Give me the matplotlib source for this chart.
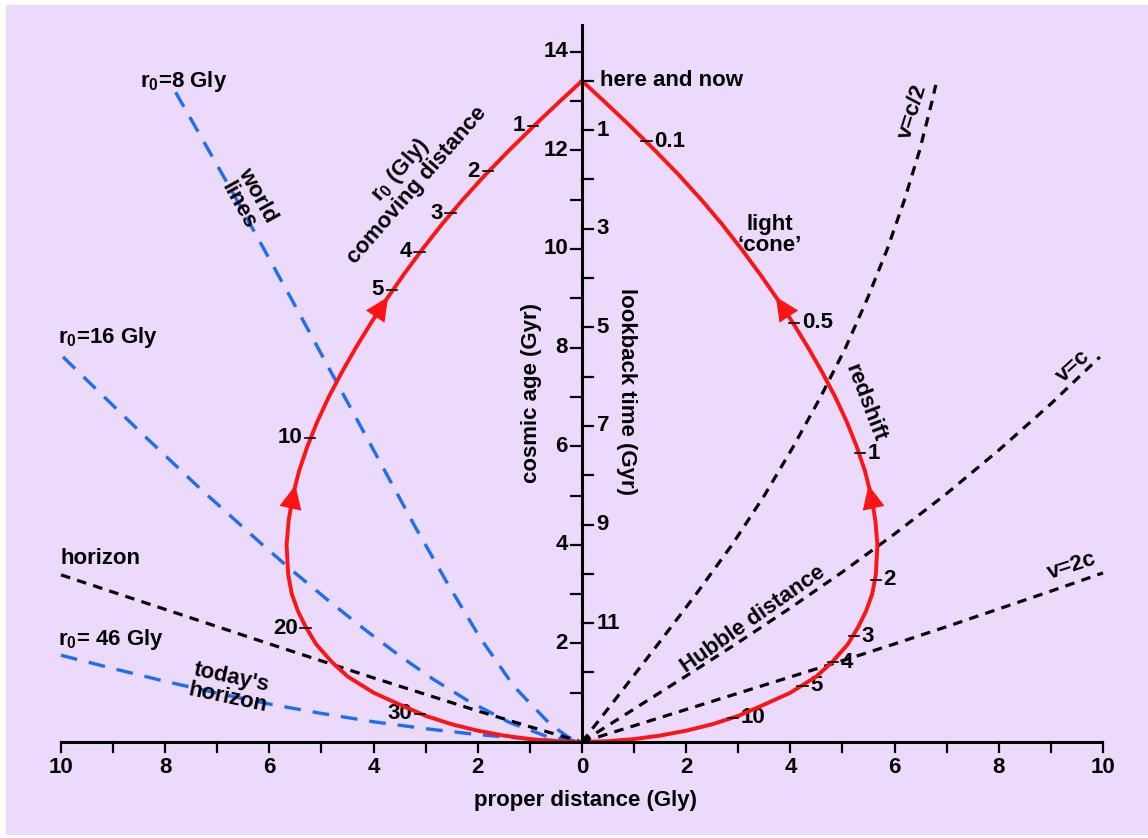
import matplotlib
matplotlib.use('Agg')
from matplotlib import pyplot as plt
from matplotlib import font_manager
from matplotlib.patches import Rectangle
import numpy as np

# --- datos ---
t0 = 13.41  # "here and now" (Gyr)

# cono de luz: edad cosmica (Gyr) y distancia propia (Gly), simetrico
cono_edad = [13.41, 13.0, 12.5, 12.0, 11.5, 11.0, 10.5, 10.0, 9.5, 9.0, 8.5, 8.0, 7.5, 7.0,
             6.5, 6.0, 5.5, 5.0, 4.5, 4.0, 3.4, 3.0, 2.65, 2.33, 1.98, 1.62, 1.33, 1.0,
             0.76, 0.53, 0.36, 0.23, 0.13, 0.06, 0.017, 0.0]
cono_dist = [0.0, 0.42, 0.92, 1.40, 1.86, 2.29, 2.69, 3.06, 3.41, 3.74, 4.05, 4.34, 4.61, 4.86,
             5.08, 5.27, 5.43, 5.55, 5.63, 5.67, 5.64, 5.57, 5.45, 5.30, 5.10, 4.80, 4.50, 4.00,
             3.50, 3.00, 2.50, 2.00, 1.50, 1.00, 0.50, 0.0]

# distancia comovil (izquierda) y redshift (derecha) sobre el cono
comovil_txt = ['1', '2', '3', '4', '5', '10', '20', '30']
comovil_edad = [12.5, 11.58, 10.73, 9.94, 9.17, 6.17, 2.31, 0.57]
redshift_txt = ['0.1', '0.5', '1', '2', '3', '4', '5', '10']
redshift_edad = [12.19, 8.5, 5.86, 3.29, 2.15, 1.62, 1.14, 0.49]
flechas_edad = [9.03, 5.21]

# lineas de mundo (azul), distancia propia negativa
r8_x = [-7.80, -6.68, -5.60, -4.84, -4.00, -3.21, -2.55, -1.96, -1.30, -0.61, -0.25, 0.0]
r8_t = [13.18, 11.10, 9.03, 7.55, 5.92, 4.38, 3.16, 2.12, 1.12, 0.36, 0.09, 0.0]
r16_x = [-9.96, -8.48, -7.33, -6.12, -5.60, -4.80, -4.13, -3.49, -2.85, -2.21, -1.40, -0.67, 0.0]
r16_t = [7.81, 6.29, 5.14, 3.99, 3.51, 2.81, 2.25, 1.74, 1.27, 0.85, 0.40, 0.11, 0.0]
r46_x = [-10.0, -9.0, -8.0, -7.0, -6.0, -5.0, -4.0, -3.0, -2.0, -1.0, 0.0]
r46_t = [1.76, 1.49, 1.23, 0.99, 0.77, 0.58, 0.41, 0.27, 0.15, 0.06, 0.0]

# lineas negras: horizonte y distancias de Hubble
hor_x = [-10.0, -8.0, -6.0, -4.0, -2.0, -1.0, 0.0]
hor_t = [3.39, 2.69, 1.99, 1.30, 0.63, 0.31, 0.0]
vc2_x = [0.0, 0.74, 1.47, 2.19, 2.88, 3.50, 4.06, 4.58, 5.06, 5.48, 5.86, 6.19, 6.48, 6.72, 6.79]
vc2_t = [0.0, 1.0, 2.0, 3.0, 4.0, 5.0, 6.0, 7.0, 8.0, 9.0, 10.0, 11.0, 12.0, 13.0, 13.33]
vc_x = [0.0, 1.0, 2.0, 3.0, 4.0, 5.0, 6.0, 7.0, 8.0, 9.0, 9.94]
vc_t = [0.0, 0.67, 1.34, 2.02, 2.72, 3.45, 4.22, 5.04, 5.92, 6.86, 7.81]
v2c_x = [0.0, 1.0, 2.0, 3.0, 4.0, 5.0, 6.0, 7.0, 8.0, 9.0, 10.0]
v2c_t = [0.0, 0.33, 0.66, 0.99, 1.32, 1.65, 1.99, 2.34, 2.70, 3.06, 3.43]

edad_ticks = list(range(1, 15))
lookback_ticks = list(range(0, 13))
dist_ticks = list(range(-10, 11))

# --- estilo ---
fuentes = {f.name for f in font_manager.fontManager.ttflist}
fam = 'Liberation Sans Narrow' if 'Liberation Sans Narrow' in fuentes else 'Liberation Sans'
plt.rcParams['font.family'] = [fam, 'DejaVu Sans']
plt.rcParams['font.weight'] = 'bold'
plt.rcParams['mathtext.fontset'] = 'custom'
plt.rcParams['mathtext.rm'] = fam + ':bold'
plt.rcParams['mathtext.bf'] = fam + ':bold'
plt.rcParams['mathtext.it'] = fam + ':bold'

lavanda = '#ebdafb'
rojo = '#ff1414'
azul = '#1e6ef5'
fs = 16

fig = plt.figure(figsize=(11.48, 8.38), dpi=100)
fig.patch.set_facecolor('white')
fig.patches.append(Rectangle((6 / 1148, 3 / 838), 1, 1 - 8 / 838, transform=fig.transFigure,
                             facecolor=lavanda, edgecolor='none', zorder=-10))
ax = fig.add_axes([0, 0, 1, 1])
ax.set_xlim(-582 / 52.1, 566 / 52.1)
ax.set_ylim(-96 / 49.3, 742 / 49.3)
ax.axis('off')

# lineas de mundo
estilo_azul = dict(color=azul, lw=2.4, ls=(0, (5, 3.6)), zorder=2)
ax.plot(r8_x, r8_t, **estilo_azul)
ax.plot(r16_x, r16_t, **estilo_azul)
ax.plot(r46_x, r46_t, **estilo_azul)

# horizonte y Hubble
estilo_negro = dict(color='black', lw=2.3, ls=(0, (3, 2.3)), zorder=3)
for xs, ts in [(hor_x, hor_t), (vc2_x, vc2_t), (vc_x, vc_t), (v2c_x, v2c_t)]:
    ax.plot(xs, ts, **estilo_negro)

# cono de luz
dist = np.array(cono_dist)
edad = np.array(cono_edad)
ax.plot(-dist, edad, color=rojo, lw=2.8, zorder=4, solid_joinstyle='round')
ax.plot(dist, edad, color=rojo, lw=2.8, zorder=4, solid_joinstyle='round')

def x_en_cono(t):
    return np.interp(t, edad[::-1], dist[::-1])

for tf in flechas_edad:
    for lado in (-1, 1):
        punta = (lado * x_en_cono(tf), tf)
        cola = (lado * x_en_cono(tf - 0.35), tf - 0.35)
        ax.annotate('', xy=punta, xytext=cola,
                    arrowprops=dict(arrowstyle='-|>,head_length=0.85,head_width=0.4',
                                    color=rojo, lw=0, shrinkA=0, shrinkB=0,
                                    mutation_scale=20), zorder=5)

for txt, tt in zip(comovil_txt, comovil_edad):
    xc = -x_en_cono(tt)
    ax.plot([xc - 0.12, xc + 0.08], [tt, tt], color='black', lw=1.2, zorder=5)
    ax.text(xc - 0.17, tt, txt, ha='right', va='center', fontsize=fs)
for txt, tt in zip(redshift_txt, redshift_edad):
    xc = x_en_cono(tt)
    ax.plot([xc - 0.08, xc + 0.12], [tt, tt], color='black', lw=1.2, zorder=5)
    ax.text(xc + 0.17, tt, txt, ha='left', va='center', fontsize=fs)

# ejes
ax.plot([0, 0], [0, 14.54], color='black', lw=2.2, zorder=6)
ax.plot([-10, 10], [0, 0], color='black', lw=2.2, zorder=6, solid_capstyle='butt')
for e in edad_ticks:
    ax.plot([-0.21, 0], [e, e], color='black', lw=1.6, zorder=6)
    if e % 2 == 0:
        ax.text(-0.27, e, str(e), ha='right', va='center', fontsize=fs)
for lb in lookback_ticks:
    ax.plot([0, 0.21], [t0 - lb, t0 - lb], color='black', lw=1.6, zorder=6)
    if lb % 2 == 1:
        ax.text(0.28, t0 - lb, str(lb), ha='left', va='center', fontsize=fs)
for d in dist_ticks:
    ax.plot([d, d], [0, -0.2], color='black', lw=1.6, zorder=6)
    if d % 2 == 0:
        ax.text(d, -0.52, str(abs(d)), ha='center', va='center', fontsize=fs)

ax.text(0.07, -1.18, 'proper distance (Gly)', ha='center', va='center', fontsize=fs)
ax.text(-0.96, 7.08, 'cosmic age (Gyr)', ha='center', va='center', fontsize=fs, rotation=90)
ax.text(0.86, 7.10, 'lookback time (Gyr)', ha='center', va='center', fontsize=fs, rotation=-90)
ax.text(0.35, t0, 'here and now', ha='left', va='center', fontsize=fs)

# etiquetas
ax.text(-8.48, 13.39, r'r$_{0}$=8 Gly', ha='left', va='center', fontsize=fs)
ax.text(-10.05, 8.21, r'r$_{0}$=16 Gly', ha='left', va='center', fontsize=fs)
ax.text(-10.05, 2.07, r'r$_{0}$= 46 Gly', ha='left', va='center', fontsize=fs)
ax.text(-10.0, 3.73, 'horizon', ha='left', va='center', fontsize=fs)
ax.text(-6.41, 10.99, 'world\nlines', ha='center', va='center', fontsize=fs,
        rotation=-61, linespacing=1.0)
ax.text(-3.34, 11.46, 'r$_{0}$ (Gly)\ncomoving distance', ha='center', va='center',
        fontsize=fs, rotation=49, linespacing=1.0)
ax.text(-6.76, 1.10, "today's\nhorizon", ha='center', va='center', fontsize=fs,
        rotation=-12, linespacing=1.0)
ax.text(3.61, 10.28, 'light\n\u2018cone\u2019', ha='center', va='center', fontsize=fs,
        linespacing=1.0)
ax.text(5.43, 6.88, 'redshift', ha='center', va='center', fontsize=fs, rotation=-69)
ax.text(3.28, 2.49, 'Hubble distance', ha='center', va='center', fontsize=fs, rotation=35)
ax.text(6.35, 12.78, 'v=c/2', ha='center', va='center', fontsize=fs, rotation=73)
ax.text(9.42, 7.63, 'v=c', ha='center', va='center', fontsize=fs, rotation=42)
ax.text(9.40, 3.57, 'v=2c', ha='center', va='center', fontsize=fs, rotation=18)

ax.plot([0.08], [0.06], 'o', color='black', ms=4, zorder=7)

fig.savefig('out.png', dpi=100, facecolor=fig.get_facecolor())
